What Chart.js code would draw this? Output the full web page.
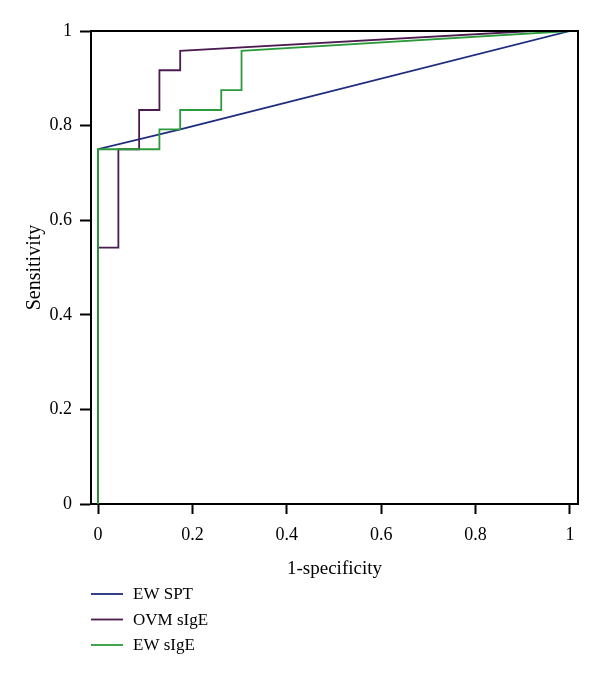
<!DOCTYPE html>
<html>
<head>
<meta charset="utf-8">
<script src="https://cdn.jsdelivr.net/npm/chart.js@4/dist/chart.umd.min.js"></script>
<style>
  html, body { margin: 0; padding: 0; background: #fff; }
  #wrap { width: 600px; height: 676px; position: relative; }
</style>
</head>
<body>
<div id="wrap"><canvas id="c" width="600" height="676"></canvas></div>
<script>
// ---- data ----
const seriesNames = ['EW SPT', 'OVM sIgE', 'EW sIgE'];
const seriesColors = ['#1d2c7c', '#4b1a4e', '#2b9a3a'];

const ewSptX = [0, 0, 0.174, 1];
const ewSptY = [0, 0.75, 0.792, 1];

const ovmX = [0, 0, 0.043, 0.043, 0.087, 0.087, 0.130, 0.130, 0.174, 0.174, 0.92, 1];
const ovmY = [0, 0.542, 0.542, 0.75, 0.75, 0.833, 0.833, 0.917, 0.917, 0.958, 1, 1];

const ewIgeX = [0, 0, 0.130, 0.130, 0.174, 0.174, 0.261, 0.261, 0.304, 0.304, 1];
const ewIgeY = [0, 0.75, 0.75, 0.792, 0.792, 0.833, 0.833, 0.875, 0.875, 0.958, 1];

const xTickValues = [0, 0.2, 0.4, 0.6, 0.8, 1];
const xTickLabels = ['0', '0.2', '0.4', '0.6', '0.8', '1'];
const yTickValues = [0, 0.2, 0.4, 0.6, 0.8, 1];
const yTickLabels = ['0', '0.2', '0.4', '0.6', '0.8', '1'];
const xTitle = '1-specificity';
const yTitle = 'Sensitivity';

// ---- build ----
const pts = (xs, ys) => xs.map((x, i) => ({ x: x, y: ys[i] }));
const allSeries = [[ewSptX, ewSptY], [ovmX, ovmY], [ewIgeX, ewIgeY]];
const datasets = allSeries.map((s, i) => ({
  label: seriesNames[i],
  data: pts(s[0], s[1]),
  showLine: true,
  borderColor: seriesColors[i],
  backgroundColor: seriesColors[i],
  borderWidth: 1.8,
  pointRadius: 0,
  fill: false,
  tension: 0,
  order: 3 - i
}));

const FONT = '"Liberation Serif", "DejaVu Serif", serif';

const framePlugin = {
  id: 'frame',
  afterDatasetsDraw(chart) {
    const { ctx, chartArea: a } = chart;
    ctx.save();
    ctx.strokeStyle = '#000';
    ctx.lineWidth = 2;
    ctx.beginPath();
    ctx.moveTo(a.left, a.top);
    ctx.lineTo(a.right, a.top);
    ctx.lineTo(a.right, a.bottom);
    ctx.stroke();
    ctx.restore();
  }
};

const legendPlugin = {
  id: 'vlegend',
  afterDraw(chart) {
    const { ctx } = chart;
    ctx.save();
    ctx.font = '17px ' + FONT;
    ctx.textBaseline = 'middle';
    ctx.fillStyle = '#000';
    chart.data.datasets.forEach((ds, i) => {
      const y = 594 + i * 25.5;
      ctx.strokeStyle = ds.borderColor;
      ctx.lineWidth = 1.8;
      ctx.beginPath();
      ctx.moveTo(91, y);
      ctx.lineTo(123, y);
      ctx.stroke();
      ctx.fillText(ds.label, 133, y + 1);
    });
    ctx.restore();
  }
};

new Chart(document.getElementById('c'), {
  type: 'scatter',
  data: { datasets },
  options: {
    responsive: false,
    animation: false,
    devicePixelRatio: 1,
    layout: { padding: { top: 31, right: 22, left: 0, bottom: 92 } },
    plugins: { legend: { display: false }, tooltip: { enabled: false } },
    scales: {
      x: {
        type: 'linear',
        min: -0.015,
        max: 1.017,
        afterBuildTicks: s => { s.ticks = xTickValues.map(v => ({ value: v })); },
        afterFit: s => { s.height = 80; },
        ticks: {
          callback: (v, i) => xTickLabels[i],
          color: '#000',
          font: { family: FONT, size: 18 },
          padding: 10,
          maxRotation: 0,
          autoSkip: false
        },
        grid: { drawOnChartArea: false, drawTicks: true, tickLength: 10, tickWidth: 2, tickColor: '#000', color: '#000' },
        border: { display: true, color: '#000', width: 2 },
        title: { display: true, text: xTitle, color: '#000', font: { family: FONT, size: 19 }, padding: { top: 0, bottom: 4 } }
      },
      y: {
        type: 'linear',
        min: 0,
        max: 1,
        afterBuildTicks: s => { s.ticks = yTickValues.map(v => ({ value: v })); },
        afterFit: s => { s.width = 91; },
        ticks: {
          callback: (v, i) => yTickLabels[i],
          color: '#000',
          font: { family: FONT, size: 18 },
          padding: 8,
          autoSkip: false
        },
        grid: { drawOnChartArea: false, drawTicks: true, tickLength: 11, tickWidth: 2, tickColor: '#000', color: '#000' },
        border: { display: true, color: '#000', width: 2 },
        title: { display: true, text: yTitle, color: '#000', font: { family: FONT, size: 20 }, padding: { top: 23, bottom: 0 } }
      }
    }
  },
  plugins: [framePlugin, legendPlugin]
});
</script>
</body>
</html>
